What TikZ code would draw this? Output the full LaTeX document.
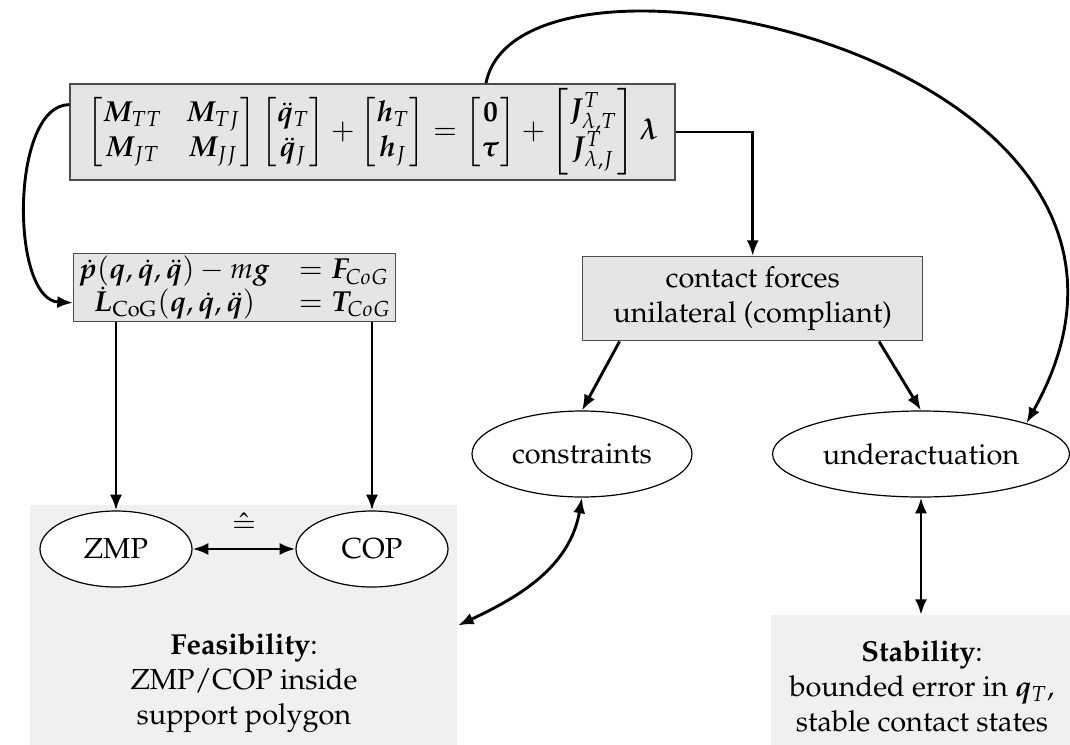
\documentclass[tikz,border=0pt]{standalone}
\usepackage[T1]{fontenc}
\usepackage{amsmath}
\usepackage{mathpazo}
\usepackage{bm}
\usetikzlibrary{arrows.meta,shapes.geometric,calc}
\newcommand{\pxu}{0.415pt}
\begin{document}
\begin{tikzpicture}[x=0.415pt,y=-0.415pt,
  every node/.style={font=\fontsize{12}{14.5}\selectfont},
  eqbox/.style={draw=black!70,fill=black!10,line width=0.6pt,inner sep=2pt},
  region/.style={fill=black!6,draw=none,inner sep=0pt},
  oval/.style={ellipse,draw=black,fill=white,line width=0.5pt,inner sep=1pt},
  link/.style={line width=1.2pt,-{Latex[length=6.5pt,width=5pt]}},
  twoway/.style={line width=1.2pt,{Latex[length=6.5pt,width=5pt]}-{Latex[length=6.5pt,width=5pt]}}
]
\useasboundingbox (0,0) rectangle (1070,744);

% shaded result areas
\node[region,anchor=north west,minimum width=427*\pxu,minimum height=240*\pxu] (feasbg) at (30,505) {};
\node[region,anchor=north west,minimum width=300*\pxu,minimum height=130*\pxu] (stabbg) at (771,615) {};

% equation of motion
\node[eqbox,minimum width=605*\pxu,minimum height=96*\pxu] (eq) at (372.5,132) {$
\begin{bmatrix} \bm M_{TT} & \bm M_{TJ} \\ \bm M_{JT} & \bm M_{JJ} \end{bmatrix}
\begin{bmatrix} \ddot{\bm q}_T \\ \ddot{\bm q}_J \end{bmatrix}
+ \begin{bmatrix} \bm h_T \\ \bm h_J \end{bmatrix}
= \begin{bmatrix} \bm 0 \\ \bm\tau \end{bmatrix}
+ \begin{bmatrix} \bm J_{\lambda,T}^T \\ \bm J_{\lambda,J}^T \end{bmatrix} \bm\lambda $};

% momentum equations
\node[eqbox,inner ysep=1pt,anchor=north west,minimum width=310*\pxu,minimum height=65*\pxu] (mom) at (73,253) {$
\renewcommand{\arraystretch}{0.7}
\begin{array}{@{}c@{\quad}l@{}}
\dot{\bm p}(\bm q,\dot{\bm q},\ddot{\bm q}) - m\bm g & = \bm F_{CoG} \\
\dot{\bm L}_{\mathrm{CoG}}(\bm q,\dot{\bm q},\ddot{\bm q}) & = \bm T_{CoG}
\end{array}$};

% contact forces
\node[eqbox,align=center,anchor=north west,minimum width=340*\pxu,minimum height=84*\pxu] (contact) at (582,256)
  {contact forces\\unilateral (compliant)};

% ellipses
\node[oval,minimum width=220*\pxu,minimum height=86*\pxu] (cons) at (582,454) {constraints};
\node[oval,minimum width=297*\pxu,minimum height=86*\pxu] (ua) at (921,454) {underactuation};
\node[oval,minimum width=152*\pxu,minimum height=76*\pxu] (zmp) at (116,549) {ZMP};
\node[oval,minimum width=152*\pxu,minimum height=76*\pxu] (cop) at (372,549) {COP};

% result texts
\node[align=center] (feastext) at (244,683) {\textbf{Feasibility}:\\ZMP/COP inside\\support polygon};
\node[align=center] (stabtext) at (922,686) {\textbf{Stability}:\\bounded error in $\bm q_T$,\\stable contact states};

% connectors
\draw[link] (eq.east) -| (contact.north);
\draw[link] ($(eq.north west)!0.22!(eq.south west)$) .. controls (10,105) and (10,300) .. ($(mom.north west)!0.72!(mom.south west)$);
\draw[link] (eq.north -| 486,0) .. controls (520,-90) and (1230,60) .. (ua.north east);
\draw[link] (mom.south -| zmp.north) -- (zmp.north);
\draw[link] (mom.south -| cop.north) -- (cop.north);
\draw[link] ($(contact.south west)!0.11!(contact.south east)$) -- (cons.north);
\draw[link] ($(contact.south west)!0.87!(contact.south east)$) -- (ua.north);
\draw[twoway] (zmp.east) -- node[above=3pt] (eqv) {$\hat{=}$} (cop.west);
\draw[twoway] (feasbg.east) to[out=25,in=-100] (cons.south);
\draw[twoway] (ua.south) -- (ua.south |- stabbg.north);
\end{tikzpicture}
\end{document}
